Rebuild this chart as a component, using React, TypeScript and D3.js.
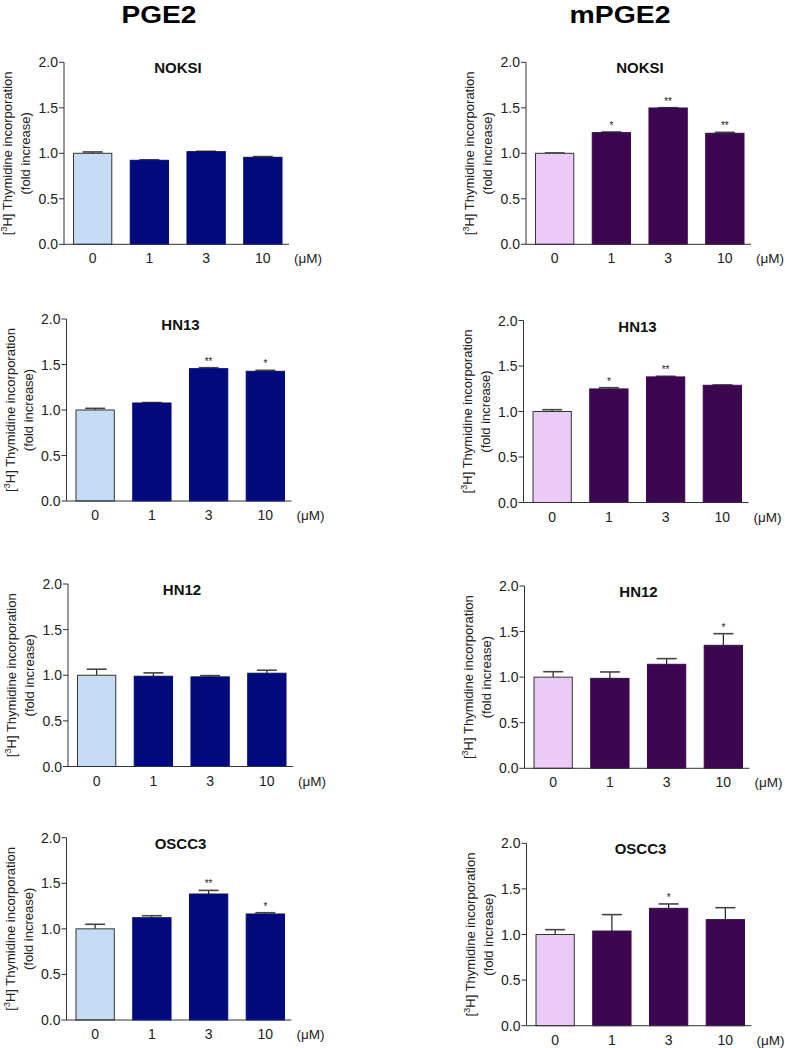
import React from "react";
import * as d3 from "d3";

const doses = ["0", "1", "3", "10"];
const yTicks = [0, 0.5, 1.0, 1.5, 2.0];
const treatments = ["PGE2", "mPGE2"];

// PGE2 means and SEM (upper error)
const pge2Noksi = [1.0, 0.923, 1.018, 0.956];
const pge2NoksiErr = [0.015, 0.006, 0.004, 0.008];
const pge2Hn13 = [1.0, 1.077, 1.454, 1.425];
const pge2Hn13Err = [0.018, 0.005, 0.011, 0.011];
const pge2Hn12 = [1.0, 0.989, 0.982, 1.022];
const pge2Hn12Err = [0.066, 0.037, 0.014, 0.033];
const pge2Oscc3 = [1.0, 1.122, 1.382, 1.163];
const pge2Oscc3Err = [0.05, 0.022, 0.04, 0.014];

// mPGE2 means and SEM
const mpge2Noksi = [1.0, 1.227, 1.498, 1.22];
const mpge2NoksiErr = [0.004, 0.007, 0.003, 0.01];
const mpge2Hn13 = [1.0, 1.248, 1.38, 1.288];
const mpge2Hn13Err = [0.02, 0.014, 0.007, 0.004];
const mpge2Hn12 = [1.0, 0.987, 1.141, 1.349];
const mpge2Hn12Err = [0.06, 0.07, 0.062, 0.128];
const mpge2Oscc3 = [1.0, 1.038, 1.287, 1.163];
const mpge2Oscc3Err = [0.053, 0.18, 0.048, 0.131];

// significance labels
const pge2NoksiSig = ["", "", "", ""];
const pge2Hn13Sig = ["", "", "**", "*"];
const pge2Hn12Sig = ["", "", "", ""];
const pge2Oscc3Sig = ["", "", "**", "*"];
const mpge2NoksiSig = ["", "*", "**", "**"];
const mpge2Hn13Sig = ["", "*", "**", ""];
const mpge2Hn12Sig = ["", "", "", "*"];
const mpge2Oscc3Sig = ["", "", "*", ""];

const panels = [
  { title: "NOKSI", values: pge2Noksi, err: pge2NoksiErr, sig: pge2NoksiSig, ax: 64, top: 62.3, bottom: 244.3, scheme: 0 },
  { title: "NOKSI", values: mpge2Noksi, err: mpge2NoksiErr, sig: mpge2NoksiSig, ax: 526, top: 62.3, bottom: 244.3, scheme: 1 },
  { title: "HN13", values: pge2Hn13, err: pge2Hn13Err, sig: pge2Hn13Sig, ax: 66.5, top: 319, bottom: 501, scheme: 0 },
  { title: "HN13", values: mpge2Hn13, err: mpge2Hn13Err, sig: mpge2Hn13Sig, ax: 523.5, top: 320.5, bottom: 502.5, scheme: 1 },
  { title: "HN12", values: pge2Hn12, err: pge2Hn12Err, sig: pge2Hn12Sig, ax: 68, top: 584, bottom: 766.5, scheme: 0 },
  { title: "HN12", values: mpge2Hn12, err: mpge2Hn12Err, sig: mpge2Hn12Sig, ax: 524.5, top: 586, bottom: 768.3, scheme: 1 },
  { title: "OSCC3", values: pge2Oscc3, err: pge2Oscc3Err, sig: pge2Oscc3Sig, ax: 66.5, top: 837.7, bottom: 1020, scheme: 0 },
  { title: "OSCC3", values: mpge2Oscc3, err: mpge2Oscc3Err, sig: mpge2Oscc3Sig, ax: 526.5, top: 843.3, bottom: 1025.7, scheme: 1 },
];

const controlColors = ["#c6dcf5", "#ebcbf5"];
const drugColors = ["#000a7c", "#3d0651"];
const FONT = "Arial, 'Liberation Sans', Helvetica, sans-serif";

function Panel({ p }: { p: typeof panels[number] }) {
  const y = d3.scaleLinear().domain([0, 2]).range([p.bottom, p.top]);
  const x = d3
    .scaleBand<string>()
    .domain(doses)
    .range([p.ax + 9.5, p.ax + 9.5 + 208.5])
    .paddingInner(0.325)
    .paddingOuter(0);
  const axisEnd = p.ax + 225;
  const bw = x.bandwidth();
  const midY = (p.top + p.bottom) / 2;
  return (
    <g>
      {doses.map((d, i) => {
        const x0 = x(d)!;
        const top = y(p.values[i]);
        const errTop = y(p.values[i] + p.err[i]);
        const cx = x0 + bw / 2;
        const isCtrl = i === 0;
        return (
          <g key={d}>
            <line x1={cx} x2={cx} y1={top} y2={errTop} stroke="#222" strokeWidth={1.2} />
            <line x1={cx - 10} x2={cx + 10} y1={errTop} y2={errTop} stroke="#444" strokeWidth={1.6} />
            <rect
              x={x0}
              y={top}
              width={bw}
              height={p.bottom - top}
              fill={isCtrl ? controlColors[p.scheme] : drugColors[p.scheme]}
              stroke={isCtrl ? "#333" : drugColors[p.scheme]}
              strokeWidth={1}
            />
            {p.sig[i] && (
              <text x={cx} y={errTop - 3} textAnchor="middle" fontSize={10} fontFamily={FONT} fill="#222">
                {p.sig[i]}
              </text>
            )}
          </g>
        );
      })}
      <line x1={p.ax} x2={p.ax} y1={p.top} y2={p.bottom} stroke="#333" strokeWidth={1} />
      {yTicks.map((t) => (
        <g key={t}>
          <line x1={p.ax - 5} x2={p.ax} y1={y(t)} y2={y(t)} stroke="#333" strokeWidth={1} />
          <text x={p.ax - 6} y={y(t)} dy="0.36em" textAnchor="end" fontSize={14} fontFamily={FONT} fill="#222">
            {t.toFixed(1)}
          </text>
        </g>
      ))}
      <line x1={p.ax} x2={axisEnd} y1={p.bottom} y2={p.bottom} stroke="#333" strokeWidth={1} />
      {doses.map((d) => (
        <text key={d} x={x(d)! + bw / 2} y={p.bottom + 19} textAnchor="middle" fontSize={14} fontFamily={FONT} fill="#222">
          {d}
        </text>
      ))}
      <text x={axisEnd + 5} y={p.bottom + 19} fontSize={13.5} fontFamily={FONT} fill="#222">
        (μM)
      </text>
      <text x={p.ax + 114} y={p.top + 11} textAnchor="middle" fontSize={15} fontWeight="bold" fontFamily={FONT} fill="#111">
        {p.title}
      </text>
      <g transform={`translate(${p.ax - 52},${midY}) rotate(-90)`}>
        <text textAnchor="middle" fontSize={13} fontFamily={FONT} fill="#222">
          [<tspan dy={-5} fontSize={9}>3</tspan>
          <tspan dy={5}>H] Thymidine incorporation</tspan>
        </text>
      </g>
      <g transform={`translate(${p.ax - 34},${midY}) rotate(-90)`}>
        <text textAnchor="middle" fontSize={13} fontFamily={FONT} fill="#222">
          (fold increase)
        </text>
      </g>
    </g>
  );
}

export default function App() {
  return (
    <svg
      width={785}
      height={1048}
      style={{ position: "absolute", left: 0, top: 0, background: "#fff" }}
    >
      <rect width={785} height={1048} fill="#fff" />
      <text x={159} y={22.5} textAnchor="middle" fontSize={23} fontWeight="bold" fontFamily={FONT} fill="#000"
        textLength={75} lengthAdjust="spacingAndGlyphs">
        {treatments[0]}
      </text>
      <text x={620} y={22.5} textAnchor="middle" fontSize={23} fontWeight="bold" fontFamily={FONT} fill="#000"
        textLength={101} lengthAdjust="spacingAndGlyphs">
        {treatments[1]}
      </text>
      {panels.map((p, i) => (
        <Panel key={i} p={p} />
      ))}
    </svg>
  );
}
